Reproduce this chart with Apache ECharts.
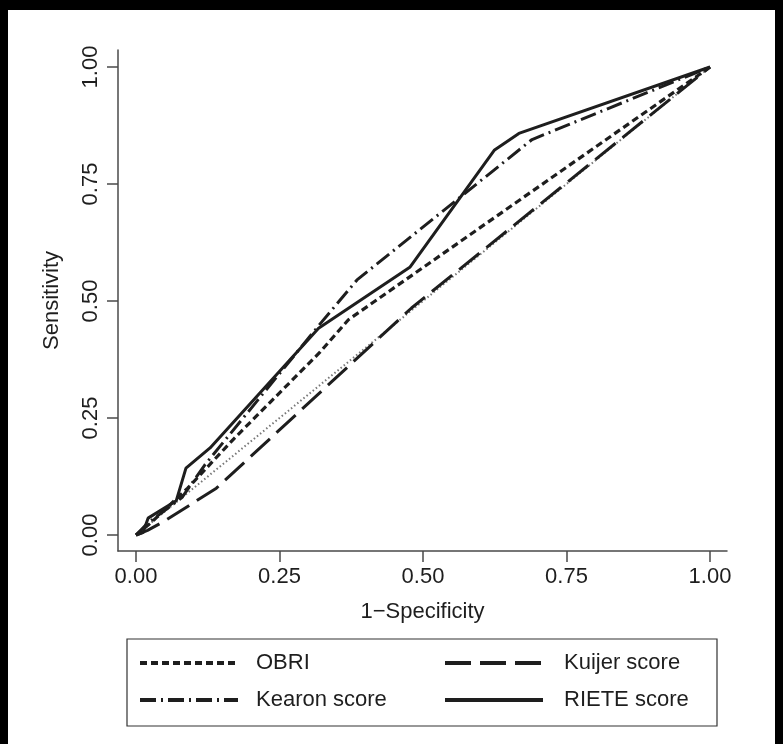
<!DOCTYPE html>
<html>
<head>
<meta charset="utf-8">
<script src="https://cdn.jsdelivr.net/npm/echarts@6/dist/echarts.min.js"></script>
<style>
  html, body { margin: 0; padding: 0; background: #000; }
  #rocChart { position: absolute; left: 8px; top: 10px; width: 767px; height: 734px; background: #fff; }
</style>
</head>
<body>
<div id="rocChart"></div>
<script>
// values (1-specificity / sensitivity)
var tickValues = [0, 0.25, 0.5, 0.75, 1];

var obriFpr = [0, 0.025, 0.09, 0.17, 0.32, 0.37, 1];
var obriTpr = [0, 0.025, 0.10, 0.205, 0.39, 0.46, 1];

var kearonFpr = [0, 0.02, 0.08, 0.12, 0.21, 0.32, 0.385, 0.69, 1];
var kearonTpr = [0, 0.025, 0.08, 0.15, 0.285, 0.45, 0.545, 0.845, 1];

var kuijerFpr = [0, 0.02, 0.05, 0.14, 0.48, 1];
var kuijerTpr = [0, 0.01, 0.03, 0.10, 0.485, 1];

var rieteFpr = [0, 0.012, 0.021, 0.07, 0.087, 0.129, 0.318, 0.477, 0.624, 0.667, 1];
var rieteTpr = [0, 0.005, 0.036, 0.073, 0.143, 0.186, 0.442, 0.572, 0.822, 0.858, 1];

var refFpr = [0, 1];
var refTpr = [0, 1];

function pairs(xs, ys) {
    return xs.map(function (x, i) { return [x, ys[i]]; });
}

var ink = '#1e1e1e';
var font = 'Liberation Sans, Arial, Helvetica, sans-serif';

var myChart = echarts.init(document.getElementById('rocChart'));

function lineSeries(name, data, dash, width) {
    return {
        name: name,
        type: 'line',
        data: data,
        symbol: 'none',
        showSymbol: false,
        silent: true,
        color: ink,
        lineStyle: { color: ink, width: width, type: dash, cap: 'butt' }
    };
}

var axisCommon = {
    type: 'value',
    splitLine: { show: false },
    axisLine: { show: true, onZero: false, lineStyle: { color: '#4a4a4a', width: 1.5 } },
    axisTick: { show: true, customValues: tickValues, length: 11, lineStyle: { color: '#4a4a4a', width: 1.5 } },
    nameLocation: 'middle',
    nameTextStyle: { fontFamily: font, fontSize: 22, color: ink }
};

var legendCommon = {
    orient: 'vertical',
    top: 642,
    padding: 0,
    itemWidth: 98, itemHeight: 22, itemGap: 15,
    itemStyle: { opacity: 0 },
    lineStyle: { width: 4 },
    textStyle: { fontFamily: font, fontSize: 22, color: ink, padding: [0, 0, 0, 13] }
};

var option = {
    animation: false,
    grid: { left: 110, top: 40, right: 48, bottom: 193, containLabel: false },
    xAxis: Object.assign({}, axisCommon, {
        min: -0.0314,
        max: 1.0296,
        name: '1\u2212Specificity',
        nameGap: 50,
        axisLabel: {
            customValues: tickValues,
            margin: 15,
            fontFamily: font, fontSize: 22, color: ink,
            formatter: function (v) { return v.toFixed(2); }
        }
    }),
    yAxis: Object.assign({}, axisCommon, {
        min: -0.0342,
        max: 1.0363,
        name: 'Sensitivity',
        nameGap: 55,
        axisLabel: {
            customValues: tickValues,
            rotate: 90,
            margin: 16,
            fontFamily: font, fontSize: 22, color: ink,
            formatter: function (v) { return v.toFixed(2); }
        }
    }),
    legend: [
        Object.assign({}, legendCommon, { data: ['OBRI', 'Kearon score'], left: 130 }),
        Object.assign({}, legendCommon, { data: ['Kuijer score', 'RIETE score'], left: 435,
            textStyle: { fontFamily: font, fontSize: 22, color: ink, padding: [0, 0, 0, 16] } })
    ],
    graphic: [{
        type: 'rect',
        shape: { x: 119, y: 629, width: 590, height: 87 },
        style: { fill: 'none', stroke: '#333', lineWidth: 1.2 },
        silent: true
    }],
    series: [
        {
            name: 'reference',
            type: 'line',
            data: pairs(refFpr, refTpr),
            symbol: 'none',
            silent: true,
            lineStyle: { color: '#777', width: 2, type: [1.5, 2.5] }
        },
        lineSeries('Kuijer score', pairs(kuijerFpr, kuijerTpr), [26, 9], 3),
        lineSeries('OBRI', pairs(obriFpr, obriTpr), [7, 4], 3.2),
        lineSeries('Kearon score', pairs(kearonFpr, kearonTpr), [16, 5, 2, 5], 3),
        lineSeries('RIETE score', pairs(rieteFpr, rieteTpr), 'solid', 3)
    ]
};

myChart.setOption(option);
</script>
</body>
</html>
